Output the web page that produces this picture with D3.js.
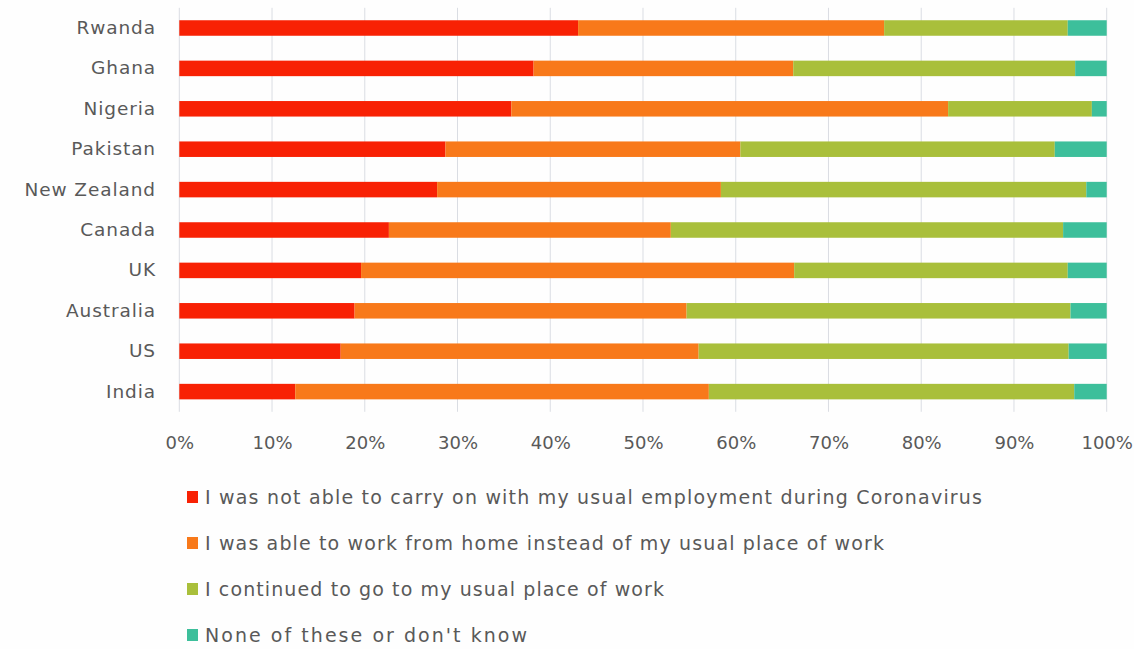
<!DOCTYPE html>
<html>
<head>
<meta charset="utf-8">
<script src="https://cdn.jsdelivr.net/npm/d3@7"></script>
<style>
  html, body { margin: 0; padding: 0; background: #fefefe; }
  svg { display: block; }
  text { font-family: "DejaVu Sans", sans-serif; fill: #595959; }
</style>
</head>
<body>
<svg id="chart" width="1134" height="649"></svg>
<script>
const countries = ["Rwanda", "Ghana", "Nigeria", "Pakistan", "New Zealand", "Canada", "UK", "Australia", "US", "India"];
const notAble   = [43.0, 38.2, 35.8, 28.7, 27.8, 22.6, 19.6, 18.9, 17.4, 12.5];
const fromHome  = [33.0, 28.0, 47.1, 31.8, 30.6, 30.4, 46.7, 35.8, 38.6, 44.6];
const wentToWork= [19.8, 30.4, 15.5, 33.9, 39.4, 42.3, 29.5, 41.4, 39.9, 39.4];
const noneDK    = [4.2, 3.4, 1.6, 5.6, 2.2, 4.7, 4.2, 3.9, 4.1, 3.5];
const seriesNames = [
  "I was not able to carry on with my usual employment during Coronavirus",
  "I was able to work from home instead of my usual place of work",
  "I continued to go to my usual place of work",
  "None of these or don't know"
];
const tickValues = [0, 10, 20, 30, 40, 50, 60, 70, 80, 90, 100];
const colors = ["#f82104", "#f8791a", "#a9bf3b", "#3dbf9b"];

const keys = ["a", "b", "c", "d"];
const table = countries.map((c, i) => ({ country: c, a: notAble[i], b: fromHome[i], c: wentToWork[i], d: noneDK[i] }));

const svg = d3.select("#chart");
const x = d3.scaleLinear().domain([0, 100]).range([179.3, 1106.7]);
const y = d3.scaleBand().domain(countries).range([7.8, 411.8]).paddingInner(0.616).paddingOuter(0.308);

// gridlines
svg.append("g").selectAll("line").data(tickValues).join("line")
  .attr("x1", d => x(d)).attr("x2", d => x(d))
  .attr("y1", 7.8).attr("y2", 411.8)
  .attr("stroke", "#dadde3").attr("stroke-width", 1);

// bars
const stacked = d3.stack().keys(keys)(table);
svg.append("g").selectAll("g").data(stacked).join("g")
  .attr("fill", (d, i) => colors[i])
  .selectAll("rect").data(d => d).join("rect")
  .attr("x", d => x(d[0]))
  .attr("width", d => x(d[1]) - x(d[0]))
  .attr("y", d => y(d.data.country))
  .attr("height", y.bandwidth());

// x axis labels
const xAxis = d3.axisBottom(x).tickValues(tickValues).tickFormat(d => d + "%").tickSize(0).tickPadding(0);
const gx = svg.append("g").attr("transform", "translate(0,443)").call(xAxis);
gx.select(".domain").remove();
gx.selectAll("text").attr("dy", "0.35em").attr("font-size", 18).style("font-family", "DejaVu Sans").attr("fill", "#595959");

// y axis labels
const yAxis = d3.axisLeft(y).tickSize(0).tickPadding(0);
const gy = svg.append("g").attr("transform", "translate(156,0)").call(yAxis);
gy.select(".domain").remove();
gy.selectAll("text").attr("font-size", 18.5).attr("letter-spacing", 0.9).style("font-family", "DejaVu Sans").attr("fill", "#595959");

// legend
const legendY = [497, 543, 589, 635];
const legendEnd = [982, 884, 664, 527];
const lg = svg.append("g");
seriesNames.forEach((name, i) => {
  lg.append("rect").attr("x", 187).attr("y", legendY[i] - 6).attr("width", 11).attr("height", 12).attr("fill", colors[i]);
  const t = lg.append("text").attr("x", 205).attr("y", legendY[i]).attr("dy", "0.35em")
    .attr("font-size", 19).text(name);
  const target = legendEnd[i] - 205;
  t.attr("textLength", target).attr("lengthAdjust", "spacing");
});
</script>
</body>
</html>
